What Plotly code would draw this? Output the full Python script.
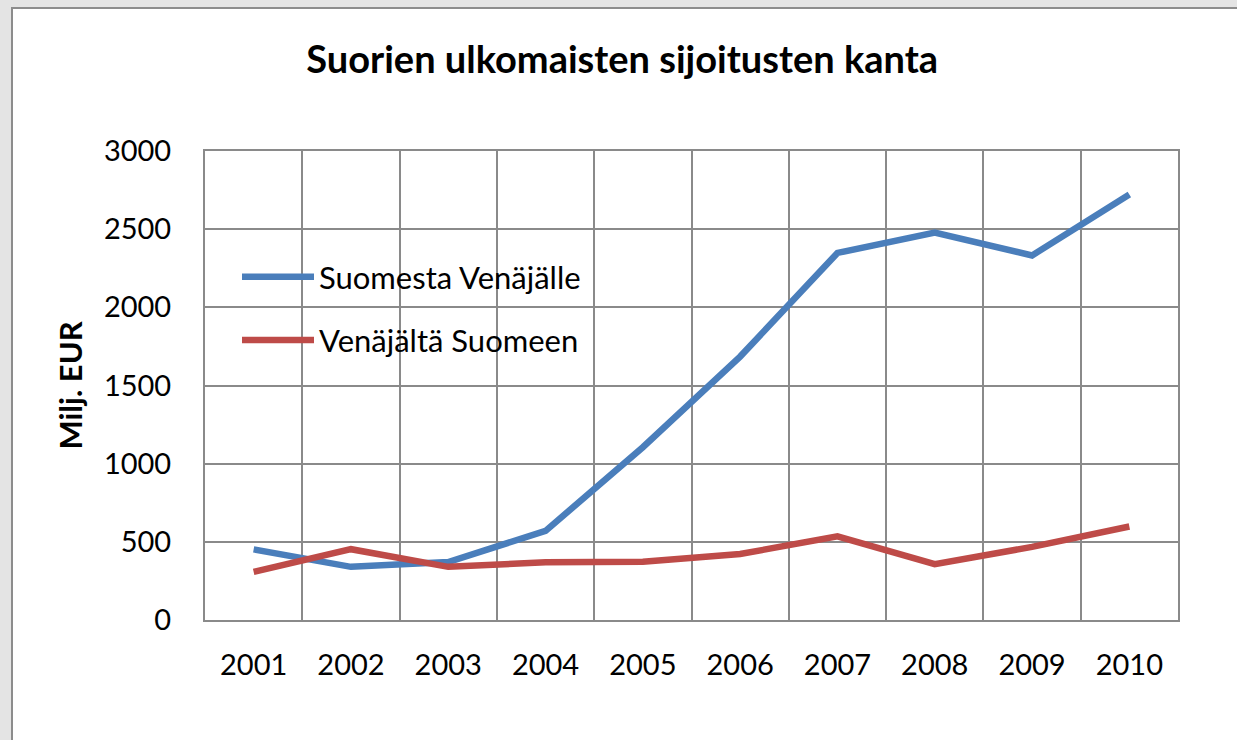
import plotly.graph_objects as go

years = ["2001", "2002", "2003", "2004", "2005", "2006", "2007", "2008", "2009", "2010"]
suomesta_venajalle = [452, 340, 371, 570, 1105, 1685, 2348, 2478, 2332, 2722]
venajalta_suomeen = [308, 453, 340, 369, 372, 422, 535, 357, 468, 598]

series_names = ["Suomesta Venäjälle", "Venäjältä Suomeen"]
y_ticks = [0, 500, 1000, 1500, 2000, 2500, 3000]

FONT = "Lato"
GRID = "#8a8a8a"

fig = go.Figure()
fig.add_trace(go.Scatter(x=years, y=suomesta_venajalle, mode="lines", name=series_names[0],
                         line=dict(color="#4A7EBB", width=6.5), legendgroup="a"))
fig.add_trace(go.Scatter(x=years, y=venajalta_suomeen, mode="lines", name=series_names[1],
                         line=dict(color="#BE4B48", width=6.5), legendgroup="b"))

L, R, T, B = 205, 59, 151, 120
W, H = 1237, 740
pw, ph = W - L - R, H - T - B

def px_x(p):
    return (p - L) / pw

def px_y(p):
    return (H - B - p) / ph

fig.update_layout(
    width=W, height=H,
    margin=dict(l=L, r=R, t=T, b=B, pad=0),
    paper_bgcolor="#e4e4e4",
    plot_bgcolor="white",
    font=dict(family=FONT, size=29, color="black"),
    title=dict(text="<b>Suorien ulkomaisten sijoitusten kanta</b>", x=0.503, xref="container",
               xanchor="center", y=1 - 60 / H, yanchor="middle", yref="container",
               font=dict(family=FONT, size=38, color="black")),
    showlegend=True,
    legend=dict(x=px_x(237), y=px_y(250), xanchor="left", yanchor="top",
                bgcolor="rgba(0,0,0,0)", font=dict(family=FONT, size=31),
                traceorder="grouped", tracegroupgap=20, itemwidth=72),
    shapes=[dict(type="rect", xref="paper", yref="paper", layer="below",
                 x0=px_x(12), x1=px_x(W + 60), y0=px_y(H + 60), y1=px_y(8),
                 fillcolor="white", line=dict(color="#8c8c8c", width=2))],
)

fig.update_xaxes(type="category", categoryorder="array", categoryarray=years,
                 range=[-0.5, 9.5], tickson="boundaries", showgrid=True, gridcolor=GRID, gridwidth=2,
                 showline=True, linecolor=GRID, linewidth=2, mirror=True, ticks="",
                 ticklabelstandoff=18, tickfont=dict(family=FONT, size=29))
fig.update_yaxes(range=[0, 3000], tickvals=y_ticks, showgrid=True, gridcolor=GRID, gridwidth=2,
                 showline=True, linecolor=GRID, linewidth=2, mirror=True, ticks="",
                 zeroline=False, ticklabelstandoff=26, tickfont=dict(family=FONT, size=29),
                 title=dict(text="<b>Milj. EUR</b>", standoff=12, font=dict(family=FONT, size=31)))

fig.write_html("out.html", config={"displayModeBar": False},
               post_script="document.body.style.margin='0';document.body.style.padding='0';")
